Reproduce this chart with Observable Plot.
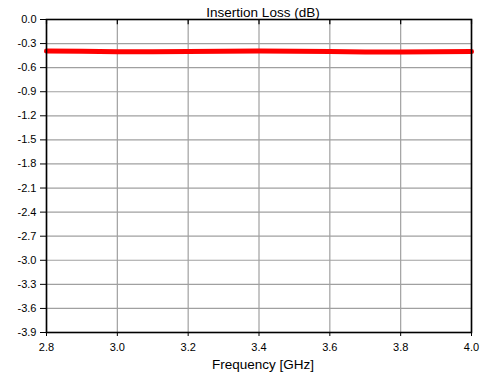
<!DOCTYPE html>
<html>
<head>
<meta charset="utf-8">
<script src="https://cdn.jsdelivr.net/npm/d3@7"></script>
<script src="https://cdn.jsdelivr.net/npm/@observablehq/plot@0.6"></script>
<style>
  html, body { margin: 0; padding: 0; background: #fff; }
  #chart svg { display: block; }
</style>
</head>
<body>
<div id="chart"></div>
<script>
const title = "Insertion Loss (dB)";
const xLabel = "Frequency [GHz]";
const xTicks = [2.8, 3.0, 3.2, 3.4, 3.6, 3.8, 4.0];
const yTicks = [0.0, -0.3, -0.6, -0.9, -1.2, -1.5, -1.8, -2.1, -2.4, -2.7, -3.0, -3.3, -3.6, -3.9];
const freq = [2.8, 2.9, 3.0, 3.1, 3.2, 3.3, 3.4, 3.5, 3.6, 3.7, 3.8, 3.9, 4.0];
const loss = [-0.392, -0.397, -0.402, -0.402, -0.400, -0.397, -0.393, -0.396, -0.400, -0.404, -0.405, -0.402, -0.398];

const data = freq.map((f, i) => ({f, v: loss[i]}));
const font = "Liberation Sans, Arial, sans-serif";

const chart = Plot.plot({
  width: 483,
  height: 376,
  marginLeft: 46,
  marginRight: 12,
  marginTop: 19,
  marginBottom: 44,
  style: {fontFamily: font, fontSize: "11px", color: "#000", background: "#fff"},
  x: {domain: [2.8, 4.0], ticks: xTicks},
  y: {domain: [-3.9, 0], ticks: yTicks},
  marks: [
    Plot.gridX(xTicks, {stroke: "#a0a0a0", strokeOpacity: 1, strokeWidth: 1.2}),
    Plot.gridY(yTicks, {stroke: "#a0a0a0", strokeOpacity: 1, strokeWidth: 1.2}),
    Plot.ruleX(xTicks, {y1: 0, y2: -0.065, stroke: "#000", strokeWidth: 1.2}),
    Plot.axisX(xTicks, {tickSize: 4, tickPadding: 7, tickFormat: d => d.toFixed(1), label: null, fontSize: 11}),
    Plot.axisY(yTicks, {tickSize: 6, tickPadding: 4, tickFormat: d => d.toFixed(1), label: null, fontSize: 11}),
    Plot.line(data, {x: "f", y: "v", stroke: "#ff0000", strokeWidth: 5}),
    Plot.frame({stroke: "#000", strokeWidth: 1.6}),
    Plot.text([title], {frameAnchor: "top", lineAnchor: "bottom", dy: -3, dx: 4, fontSize: 13.5, fill: "#000"}),
    Plot.text([xLabel], {frameAnchor: "bottom", lineAnchor: "bottom", dy: 36, dx: 4, fontSize: 13.5, fill: "#000"})
  ]
});
document.getElementById("chart").appendChild(chart);
</script>
</body>
</html>
